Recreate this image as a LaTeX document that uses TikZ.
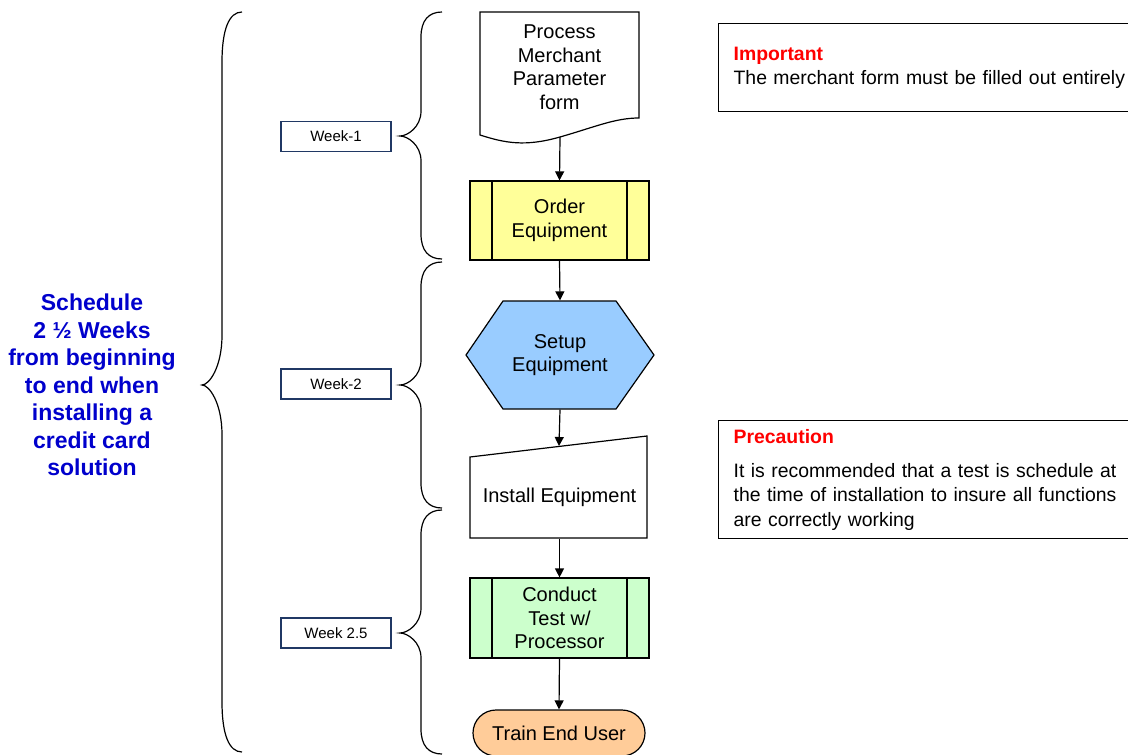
\documentclass[tikz,border=0pt]{standalone}
\usepackage{fontspec}
\setmainfont{Liberation Sans}
\usetikzlibrary{arrows.meta}
\definecolor{ink}{HTML}{000000}
\definecolor{schedblue}{HTML}{0000CC}
\definecolor{notered}{HTML}{FF0000}
\definecolor{weekline}{HTML}{203864}
\definecolor{orderfill}{HTML}{FFFF99}
\definecolor{setupfill}{HTML}{99CCFF}
\definecolor{testfill}{HTML}{CCFFCC}
\definecolor{trainfill}{HTML}{FFCC99}
% curly brace opening to the right: end x, stem x, tip x, top y, tip y, bottom y, curl
\newcommand{\wkbrace}[7]{%
  \draw[curly] (#1,#4) .. controls ({#2+0.35*(#1-#2)},#4) and (#2,{#4+0.35*#7}) .. (#2,{#4+#7})
    -- (#2,{#5-#7}) .. controls (#2,{#5-0.35*#7}) and ({#3+0.35*(#2-#3)},#5) .. (#3,#5)
    .. controls ({#3+0.35*(#2-#3)},#5) and (#2,{#5+0.35*#7}) .. (#2,{#5+#7})
    -- (#2,{#6-#7}) .. controls (#2,{#6-0.35*#7}) and ({#2+0.35*(#1-#2)},#6) .. (#1,#6);}

\begin{document}
\begin{tikzpicture}[
  x=0.5pt, y=-0.5pt,
  shape base/.style={
    line width=0.6pt, align=center, inner sep=0pt, text=ink,
    font=\fontsize{10}{11.75}\selectfont
  },
  procbox/.style={shape base, draw=ink, minimum width=89.5pt, minimum height=39.5pt,
    path picture={
      \draw[line width=0.6pt] ([xshift=11pt]path picture bounding box.north west)
        -- ([xshift=11pt]path picture bounding box.south west);
      \draw[line width=0.6pt] ([xshift=-11pt]path picture bounding box.north east)
        -- ([xshift=-11pt]path picture bounding box.south east);
    }},
  outline/.style={line width=0.6pt, draw=ink},
  flow/.style={-{Triangle[length=4.5pt,width=4.5pt]}, line width=0.6pt, draw=ink},
  curly/.style={line width=0.6pt, draw=ink},
  weekbox/.style={draw=weekline, line width=0.6pt, minimum width=55pt, minimum height=15pt,
    inner sep=0pt, font=\fontsize{7.5}{9}\selectfont},
  notebox/.style={draw=ink, line width=0.6pt, anchor=north west, align=left,
    text width=230pt, inner xsep=7.5pt, inner ysep=0pt,
    font=\fontsize{9.7}{12.25}\selectfont}
]
\useasboundingbox (0,0) rectangle (1128,754);
\clip (0,0) rectangle (1128,754);

%% ---------- schedule text + braces ----------
\node[font=\fontsize{11.5}{13.75}\selectfont\bfseries, text=schedblue, align=center] (sched) at (92,385)
  {Schedule\\2 ½ Weeks\\from beginning\\to end when\\installing a\\credit card\\solution};

\wkbrace{242}{222}{202}{12}{385}{752}{50}
\wkbrace{442}{421}{400}{12}{136}{259}{25}
\wkbrace{442}{421}{400}{262}{385}{508}{25}
\wkbrace{442}{421}{400}{510}{633}{754}{25}

\node[weekbox] (wk1) at (336,136.5) {Week-1};
\node[weekbox] (wk2) at (336,384) {Week-2};
\node[weekbox] (wk3) at (336,633) {Week 2.5};

%% ---------- merchant form (document) ----------
\filldraw[outline, fill=white] (480,12) -- (639,12) -- (639,118)
  .. controls (615,118) and (595,127) .. (560,137)
  .. controls (525,147) and (505,143) .. (480,135) -- cycle;
\node[shape base, minimum width=79.5pt, minimum height=55pt] (form) at (559.5,67)
  {Process\\Merchant\\Parameter\\form};
\coordinate (formtail) at (560,137);

%% ---------- order ----------
\node[procbox, fill=orderfill] (order) at (559.5,220.5) {Order\\Equipment};

%% ---------- setup (hexagon) ----------
\filldraw[outline, fill=setupfill] (503,301) -- (616,301) -- (654,355)
  -- (616,409) -- (503,409) -- (466,355) -- cycle;
\node[shape base, minimum width=94pt, minimum height=54pt] (setup) at (560,355)
  {Setup\\Equipment};

%% ---------- install (manual input) ----------
\filldraw[outline, fill=white] (470,457) -- (647,436) -- (647,538) -- (470,538) -- cycle;
\node[shape base, minimum width=88.5pt, minimum height=41pt] (install) at (559.5,497)
  {Install Equipment};
\coordinate (installtop) at (559,446);

%% ---------- test + training ----------
\node[procbox, fill=testfill, minimum height=40pt] (test) at (559.5,618)
  {Conduct\\Test w/\\Processor};
\node[shape base, draw=ink, fill=trainfill, rounded corners=11.5pt,
      minimum width=86pt, minimum height=23pt] (train) at (559,733) {Train End User};

%% ---------- flow ----------
\draw[flow] (formtail) -- (order.north);
\draw[flow] (order.south) -- (setup.north);
\draw[flow] (setup.south) -- (installtop);
\draw[flow] (install.south) -- (test.north);
\draw[flow] (test.south) -- (train.north);

%% ---------- notes ----------
\node[notebox, minimum height=44pt] (important) at (718,23)
  {{\bfseries\color{notered}Important}\\The merchant form must be filled out entirely};
\node[notebox, minimum height=59pt] (precaution) at (718,420)
  {{\bfseries\color{notered}Precaution}\\[4.75pt]It is recommended that a test is schedule at\\
   the time of installation to insure all functions\\are correctly working};

\end{tikzpicture}
\end{document}
